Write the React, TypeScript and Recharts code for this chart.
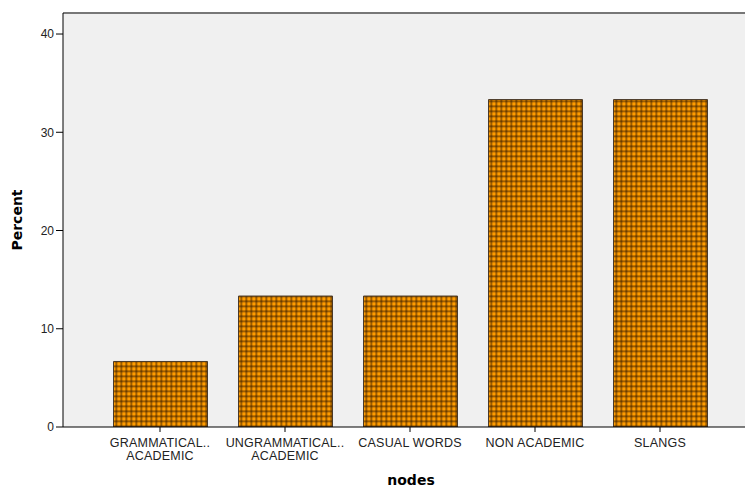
import React from "react";
import {
  BarChart,
  Bar,
  XAxis,
  YAxis,
  CartesianGrid,
  ReferenceLine,
  Label
} from "recharts";

// nodes (two-line labels split on \n)
const categories = [
  "GRAMMATICAL..\nACADEMIC",
  "UNGRAMMATICAL..\nACADEMIC",
  "CASUAL WORDS",
  "NON ACADEMIC",
  "SLANGS"
];
const percents = [6.67, 13.33, 13.33, 33.33, 33.33];
const yTicks = [0, 10, 20, 30, 40];
const yMax = 42.14;

const data = categories.map((name, i) => ({ name, value: percents[i] }));

const NodeTick = (props: any) => {
  const { x, y, payload } = props;
  const lines = String(payload.value).split("\n");
  return (
    <g transform={`translate(${x},${y})`}>
      {lines.map((ln, i) => (
        <text
          key={i}
          x={0}
          y={13 + i * 13}
          textAnchor="middle"
          fontSize={12.5}
          letterSpacing={0.2}
          fontFamily="'Liberation Sans', Arial, sans-serif"
          fill="#222"
        >
          {ln}
        </text>
      ))}
    </g>
  );
};

export default function App() {
  return (
    <div style={{ position: "absolute", left: 0, top: 0, width: 745, height: 487, background: "#fff" }}>
      {/* pattern lives in its own svg, bars refer to it by id */}
      <svg width={0} height={0} style={{ position: "absolute" }}>
        <defs>
          <pattern id="checks" patternUnits="userSpaceOnUse" width={5} height={5} x={0.5} y={0.5}>
            <rect x={0} y={0} width={5} height={5} fill="#ff9c00" />
            <rect x={0} y={0} width={1.6} height={5} fill="rgba(50,25,0,0.6)" />
            <rect x={0} y={0} width={5} height={1.6} fill="rgba(50,25,0,0.6)" />
          </pattern>
        </defs>
      </svg>
      <BarChart
        width={745}
        height={487}
        data={data}
        margin={{ top: 13, right: 0, left: 0, bottom: 0 }}
        barSize={94}
      >
        <CartesianGrid fill="#f0f0f0" horizontal={false} vertical={false} />
        <ReferenceLine y={yMax} stroke="#777" strokeWidth={2} ifOverflow="extendDomain" />
        <XAxis
          dataKey="name"
          height={60}
          interval={0}
          padding={{ left: 34.5, right: 22.5 }}
          axisLine={{ stroke: "#000" }}
          tickLine={{ stroke: "#000" }}
          tickSize={5}
          tick={<NodeTick />}
        >
          <Label
            value="nodes"
            position="insideBottom"
            dx={7}
            offset={2}
            style={{ fontFamily: "'DejaVu Sans', sans-serif", fontWeight: "bold", fontSize: 14, fill: "#000" }}
          />
        </XAxis>
        <YAxis
          width={63}
          domain={[0, yMax]}
          ticks={yTicks}
          allowDataOverflow
          axisLine={{ stroke: "#000" }}
          tickLine={{ stroke: "#000" }}
          tickSize={7}
          tick={{ fontSize: 12, fill: "#222", fontFamily: "'Liberation Sans', Arial, sans-serif" }}
        >
          <Label
            value="Percent"
            angle={-90}
            position="insideLeft"
            offset={17}
            style={{ fontFamily: "'DejaVu Sans', sans-serif", fontWeight: "bold", fontSize: 14, fill: "#000", textAnchor: "middle" }}
          />
        </YAxis>
        <Bar dataKey="value" fill="url(#checks)" stroke="#4a3a2a" strokeWidth={1} isAnimationActive={false} />
      </BarChart>
    </div>
  );
}
